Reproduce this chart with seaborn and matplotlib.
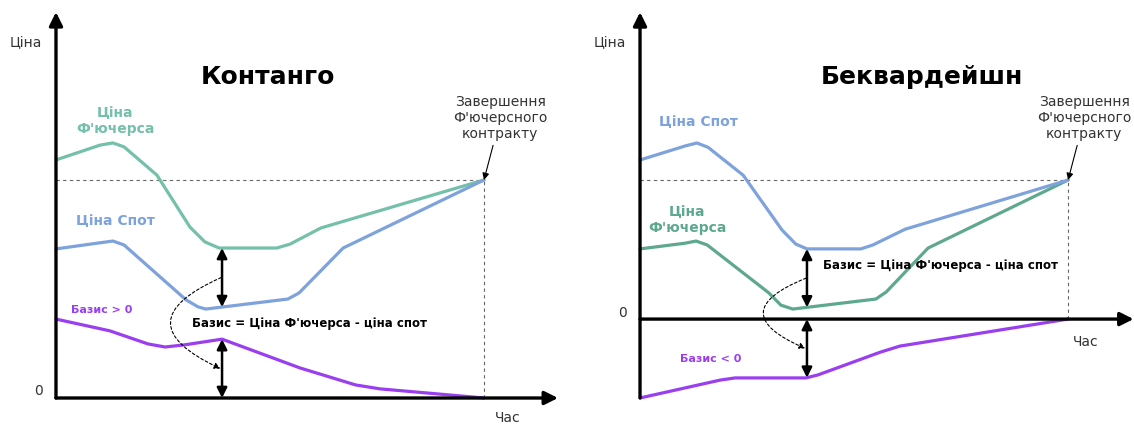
import numpy as np
import matplotlib
matplotlib.use("Agg")
import matplotlib.pyplot as plt
import seaborn as sns

sns.set_theme(style="white")
plt.rcParams['font.family'] = ['DejaVu Sans', 'Noto Sans']
plt.rcParams['text.color'] = 'black'

# --- Контанго: час (0..100 = завершення контракту), ціна ---
kont_fut_t = [0, 10.3, 13.3, 15.9, 23.6, 31.3, 34.8, 38.1, 51.6, 54.7, 61.9, 100]
kont_fut_p = [54.6, 58.0, 58.5, 57.6, 51.1, 39.2, 35.8, 34.4, 34.4, 35.3, 39.0, 50.0]
kont_spot_t = [0, 10.3, 13.3, 15.9, 30.4, 33.2, 35.0, 54.2, 56.8, 67.1, 100]
kont_spot_p = [34.2, 35.6, 36.0, 35.1, 22.5, 20.9, 20.4, 22.7, 24.1, 34.4, 50.0]
kont_bas_t = [0, 12.6, 21.5, 25.5, 30.1, 38.8, 57.0, 70.0, 75.7, 100]
kont_bas_p = [18.1, 15.4, 12.4, 11.7, 12.2, 13.5, 6.9, 3.0, 2.1, 0]

# --- Беквардейшн ---
back_spot_t = [0, 10.5, 13.3, 15.9, 24.1, 33.2, 36.4, 39.0, 51.6, 54.4, 61.9, 100]
back_spot_p = [36.5, 39.7, 40.4, 39.4, 33.0, 20.4, 17.2, 16.1, 16.1, 17.0, 20.6, 31.9]
back_fut_t = [0, 10.5, 13.1, 15.7, 30.1, 32.9, 35.7, 55.1, 57.5, 67.3, 100]
back_fut_p = [16.1, 17.4, 17.9, 17.0, 6.0, 3.2, 2.3, 4.6, 6.2, 16.3, 31.9]
back_bas_t = [0, 18.7, 22.2, 38.8, 41.6, 56.1, 60.7, 100]
back_bas_p = [-18.1, -14.0, -13.5, -13.5, -12.8, -7.6, -6.2, 0]

expiry_t = 100
mark_t = [38.8, 39.0]  # де показано базис стрілками

c_spot = "#7da2dc"
c_fut_l = "#74c0aa"
c_fut_r = "#5fa890"
c_bas = "#9a3ff0"
c_txt = "#333333"

fig = plt.figure(figsize=(11.34, 4.25), dpi=100)
ax1 = fig.add_axes([0, 0, 0.5, 1])
ax2 = fig.add_axes([0.5, 0, 0.5, 1])
ax1.set_xlim(-13.08, 119.4)
ax1.set_ylim(-6.19, 91.28)
ax2.set_xlim(-17.06, 115.4)
ax2.set_ylim(-24.3, 73.2)


def curve(ax, t, p, color):
    sns.lineplot(x=t, y=p, ax=ax, color=color, lw=2.3, estimator=None,
                 solid_joinstyle='round', solid_capstyle='round')


def draw_panel(ax, fut_t, fut_p, spot_t, spot_p, bas_t, bas_p, c_fut, tm, y_lo, y_hi, x_hi, rad):
    # осі зі стрілками
    ax.annotate("", xy=(0, y_hi), xytext=(0, y_lo),
                arrowprops=dict(arrowstyle='-|>', lw=2.4, color='black',
                                shrinkA=0, shrinkB=0, mutation_scale=20))
    ax.annotate("", xy=(x_hi, 0), xytext=(0, 0),
                arrowprops=dict(arrowstyle='-|>', lw=2.4, color='black',
                                shrinkA=0, shrinkB=0, mutation_scale=20))
    conv = fut_p[-1]
    ax.hlines(conv, 0, expiry_t, colors='#666666', lw=0.8, linestyles=(0, (3, 3)))
    ax.vlines(expiry_t, 0, conv, colors='#666666', lw=0.8, linestyles=(0, (3, 3)))

    curve(ax, fut_t, fut_p, c_fut)
    curve(ax, spot_t, spot_p, c_spot)
    curve(ax, bas_t, bas_p, c_bas)

    f = np.interp(tm, fut_t, fut_p)
    s = np.interp(tm, spot_t, spot_p)
    b = np.interp(tm, bas_t, bas_p)
    for a, z in [(f, s), (0, b)]:
        ax.annotate("", xy=(tm, a), xytext=(tm, z),
                    arrowprops=dict(arrowstyle='<|-|>', lw=1.8, color='black',
                                    shrinkA=0, shrinkB=0, mutation_scale=15))
    ax.annotate("", xy=(tm - 0.4, b / 2), xytext=(tm - 0.2, (f + s) / 2),
                arrowprops=dict(arrowstyle='-|>', lw=0.8, color='black', ls=(0, (2.5, 2)),
                                shrinkA=0, shrinkB=0, mutation_scale=9,
                                connectionstyle=f"arc3,rad={rad}"))
    ax.annotate("Завершення\nФ'ючерсного\nконтракту", xy=(expiry_t, conv),
                xytext=(expiry_t + 3.8, conv + 14.2), ha='center', va='center',
                fontsize=10, color=c_txt, linespacing=1.15,
                arrowprops=dict(arrowstyle='-|>', lw=0.8, color='black',
                                shrinkA=1, shrinkB=0, mutation_scale=10))
    ax.text(-4.2, 1.5, "0", fontsize=10, color=c_txt, ha='center', va='center')
    ax.axis('off')


draw_panel(ax1, kont_fut_t, kont_fut_p, kont_spot_t, kont_spot_p, kont_bas_t, kont_bas_p,
           c_fut_l, mark_t[0], 0, 88.5, 117.3, 1.1)
draw_panel(ax2, back_fut_t, back_fut_p, back_spot_t, back_spot_p, back_bas_t, back_bas_p,
           c_fut_r, mark_t[1], -18.1, 70.4, 115.3, 1.2)

# підписи: Контанго
ax1.text(49.5, 73.6, "Контанго", fontsize=18, fontweight='bold', color='black',
         ha='center', va='center')
ax1.text(-7.0, 81.4, "Ціна", fontsize=10, color=c_txt, ha='center', va='center')
ax1.text(105.6, -2.9, "Час", fontsize=10, color=c_txt, ha='center', va='top')
ax1.text(13.8, 63.5, "Ціна\nФ'ючерса", fontsize=10, fontweight='bold', color=c_fut_l,
         ha='center', va='center', linespacing=1.2)
ax1.text(13.8, 40.6, "Ціна Спот", fontsize=10, fontweight='bold', color=c_spot,
         ha='center', va='center')
ax1.text(10.7, 20.2, "Базис > 0", fontsize=8, fontweight='bold', color=c_bas,
         ha='center', va='center')
ax1.text(31.8, 17.0, "Базис = Ціна Ф'ючерса - ціна спот", fontsize=8.5, fontweight='bold',
         color='black', ha='left', va='center')

# підписи: Беквардейшн
ax2.text(65.9, 55.5, "Беквардейшн", fontsize=18, fontweight='bold', color='black',
         ha='center', va='center')
ax2.text(-7.0, 63.3, "Ціна", fontsize=10, color=c_txt, ha='center', va='center')
ax2.text(104.0, -5.3, "Час", fontsize=10, color=c_txt, ha='center', va='center')
ax2.text(13.6, 45.2, "Ціна Спот", fontsize=10, fontweight='bold', color=c_spot,
         ha='center', va='center')
ax2.text(11.0, 22.7, "Ціна\nФ'ючерса", fontsize=10, fontweight='bold', color=c_fut_r,
         ha='center', va='center', linespacing=1.2)
ax2.text(16.4, -9.2, "Базис < 0", fontsize=8, fontweight='bold', color=c_bas,
         ha='center', va='center')
ax2.text(42.8, 12.4, "Базис = Ціна Ф'ючерса - ціна спот", fontsize=8.5, fontweight='bold',
         color='black', ha='left', va='center')

fig.savefig("out.png", dpi=100)
